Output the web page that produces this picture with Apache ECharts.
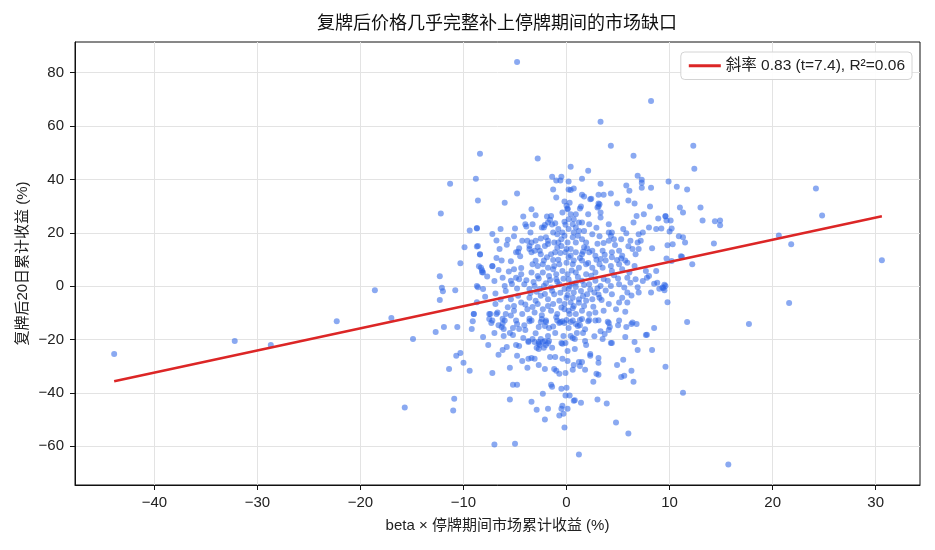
<!DOCTYPE html>
<html>
<head>
<meta charset="utf-8">
<title>复牌后价格几乎完整补上停牌期间的市场缺口</title>
<script src="https://cdn.jsdelivr.net/npm/echarts@6/dist/echarts.min.js"></script>
<style>
  html, body { margin: 0; padding: 0; background: #fff; }
  #main { width: 935px; height: 550px; }
</style>
</head>
<body>
<div id="main"></div>
<script>
// x: beta × 停牌期间市场累计收益 (%), y: 复牌后20日累计收益 (%)
const tailPoints = [
  [-43.9,-25.4],[-32.2,-20.5],[-28.7,-22.0],[-22.3,-13.1],[-18.6,-1.5],[-17.0,-11.9],[-15.7,-45.5],
  [-14.9,-19.8],[-12.7,-17.2],[-12.2,27.2],[-12.3,3.7],[-12.1,-0.6],[-12.0,-1.9],[-12.3,-5.2],[-11.9,-15.3],
  [12.3,52.6],[12.4,44.0],[9.9,39.2],[10.7,37.3],[11.7,36.2],[24.2,36.6],[24.8,26.5],[11.0,29.5],[13.0,29.5],
  [11.3,27.6],[9.6,26.1],[9.7,24.6],[10.1,24.6],[13.2,24.6],[14.4,24.3],[14.9,24.6],[14.9,22.8],[10.2,21.6],
  [10.0,20.5],[10.9,18.7],[11.3,18.3],[11.5,16.4],[9.8,15.3],[10.3,15.7],[14.3,16.0],[20.6,19.0],[21.8,15.7],
  [11.1,11.2],[11.2,11.0],[10.2,9.4],[12.2,8.2],[30.6,9.7],[9.5,0.5],[9.4,-0.7],[9.5,-1.5],[9.8,-6.0],
  [21.6,-6.3],[11.7,-13.4],[17.7,-14.2],[9.6,-30.2],[11.3,-39.9],[15.7,-66.8],[8.5,0.9],[9.0,-1.0]
];

const upperPoints = [
  [-4.8,84.0],[8.2,69.4],[3.3,61.6],[4.3,52.6],[-8.4,49.6],[-2.8,47.8],[6.5,48.9],[0.4,44.8],[2.1,43.3],
  [-11.3,38.4],[-8.8,40.3],[-8.6,32.1],[-6.0,31.3],[-4.8,34.7],[-3.4,28.8],[-1.4,41.0],[-0.5,41.0],[-1.0,39.6],
  [-0.6,39.6],[0.2,39.2],[1.5,40.3],[3.3,38.4],[-1.3,36.2],[0.2,36.2],[0.4,36.0],[0.7,36.6],[-1.0,33.2],
  [1.5,34.3],[1.7,33.6],[2.4,32.8],[3.1,34.3],[3.6,34.3],[4.3,34.7],[-0.2,31.7],[0.3,31.3],[0.1,29.1],
  [1.3,29.1],[3.1,31.0],[3.1,29.9],[4.9,31.0],[6.9,41.4],[7.3,39.9],[7.3,38.8],[5.8,37.7],[6.1,35.8],
  [7.3,36.9],[8.2,36.9],[6.0,32.1],[6.6,31.0],[8.1,29.9]
];

const leftPoints = [
  [-9.4,20.9],[-8.7,21.6],[-9.9,14.6],[-8.7,14.9],[-8.4,11.9],[-10.3,8.6],[-8.5,7.5],[-8.2,6.0],[-8.2,5.2],
  [-7.2,7.5],[-7.0,1.9],[-10.8,-1.5],[-8.6,-0.4],[-8.1,-1.1],[-8.7,-6.0],[-6.9,-6.7],[-9.0,-10.4],[-9.1,-13.1],
  [-9.2,-16.0],[-7.4,-10.4],[-6.8,-10.4],[-7.5,-12.3],[-7.3,-13.8],[-7.0,-17.5],[-8.1,-19.0],[-7.6,-22.0],
  [-10.6,-15.3],[-10.3,-25.0],[-10.7,-26.1],[-10.0,-28.7],[-11.4,-31.0],[-9.4,-31.7],[-7.2,-32.5],[-6.6,-25.7],
  [-10.9,-42.2],[-11.0,-46.6],[-7.0,-59.3],[-6.2,-12.2],[-5.4,-11.0]
];

const lowerPoints = [
  [1.2,-63.1],[-5.0,-59.0],[6.0,-55.2],[4.8,-51.1],[-0.2,-53.0],[-0.7,-48.5],[-0.3,-47.8],[-0.5,-45.9],
  [0.1,-45.9],[-0.4,-44.8],[-2.1,-50.0],[-2.9,-46.3],[-1.8,-45.9],[-3.4,-43.3],[-5.5,-42.5],[-2.3,-40.3],
  [-0.1,-41.0],[0.3,-41.0],[0.7,-42.9],[0.8,-42.7],[1.4,-43.7],[3.0,-42.5],[3.9,-44.0],[-0.5,-38.4],[0.0,-38.1],
  [-1.5,-36.9],[-1.4,-37.7],[-5.2,-36.9],[-4.8,-36.9],[2.6,-35.8],[6.5,-35.8],[5.3,-34.0],[5.6,-33.6],[6.3,-31.7],
  [2.9,-32.8],[3.1,-33.2],[-5.5,-30.6],[-3.8,-30.6],[-2.1,-31.0],[-1.2,-31.0],[-1.0,-31.7],[-0.7,-32.8],
  [-0.1,-32.5],[0.6,-31.3],[0.7,-29.5],[1.3,-29.9],[1.2,-28.4],[1.5,-28.4],[1.8,-31.3],[4.9,-29.5],[5.5,-27.6],
  [8.3,-23.9],[6.9,-23.9],[6.6,-20.9],[5.7,-19.0],[8.5,-15.7],[7.7,-18.3],[7.8,-18.2],[6.8,-14.2],[6.3,-14.2],
  [5.8,-15.3],[5.0,-14.6],[4.3,-21.3],[4.4,-21.3],[3.5,-19.8],[3.7,-17.9],[4.1,-13.8],[4.2,-15.3],[4.1,-16.4],
  [3.1,-12.8],[2.3,-25.4],[2.3,-26.1],[3.1,-26.9],[3.1,-28.7],[1.8,-20.5],[1.9,-22.0],[0.8,-23.5],[0.1,-24.3],
  [-0.4,-27.2],[0.1,-28.0],[-1.6,-26.5],[-1.1,-26.5],[-3.7,-27.2],[-3.4,-26.9],[-3.1,-27.2],[-4.3,-28.0],
  [-2.7,-29.5],[-4.8,-26.1],[-6.2,-23.9],[-5.8,-22.8],[-4.9,-22.0],[-4.6,-22.4],[-3.7,-20.9],[-3.1,-20.9],
  [-2.7,-20.9],[-2.6,-22.0],[-2.7,-23.5],[-2.2,-23.1],[-1.7,-20.5],[-2.0,-22.0],[-1.4,-23.1],[-0.5,-21.3],
  [-0.4,-21.6],[-6.6,-14.6],[-6.3,-15.3],[-6.1,-16.0],[-6.1,-18.7],[-5.5,-17.5],[-5.2,-18.3],[-5.2,-15.7],
  [-4.6,-16.0],[-4.8,-14.2],[-4.0,-16.4],[-3.6,-13.1],[-3.6,-12.2],[-2.7,-15.3],[-2.5,-13.4],[-2.4,-12.3],
  [-2.1,-14.9],[-2.0,-13.4],[-1.7,-15.7],[-1.8,-18.7],[-1.1,-17.5],[-0.7,-13.8],[-0.6,-13.4],[-0.2,-13.8],
  [-0.4,-13.1],[0.0,-12.7],[0.2,-15.7],[0.4,-13.4],[0.4,-18.7],[0.6,-19.4],[0.8,-19.8],[-0.3,-18.7],[-0.1,-21.3],
  [1.0,-17.5],[1.1,-14.9],[1.3,-14.6],[0.9,-14.2],[1.3,-12.7],[1.6,-17.5],[2.1,-13.1],[2.2,-12.7],[-3.3,-19.8],
  [-2.9,-23.1],[-2.7,-21.6],[-3.7,-20.5],[-4.2,-19.4],[-2.5,-19.8],[-2.3,-20.9],[-2.1,-20.5],[-1.8,-21.3]
];

const corePoints = [
  [-4.2,26.1],[-3.0,26.6],[-1.9,26.1],[-1.5,26.3],[-1.6,24.9],[-1.8,23.9],[-2.1,22.9],[-1.4,23.1],[-1.1,23.6],
  [-4.0,23.2],[-3.3,23.2],[-0.2,24.1],[-0.4,27.6],[0.0,30.1],[0.1,28.8],[-8.7,21.8],[-6.4,21.4],[-5.0,21.6],
  [-3.9,22.4],[-3.5,20.1],[-2.4,22.0],[-2.2,22.0],[-1.3,20.1],[-0.8,21.4],[-0.9,19.5],[-0.4,20.1],[-5.7,17.4],
  [-5.1,18.7],[-4.3,17.0],[-3.8,17.0],[-3.4,16.4],[-3.6,15.1],[-3.0,17.0],[-2.0,18.3],[-1.8,17.0],[-1.8,15.8],
  [-2.1,15.1],[-1.2,16.4],[-0.8,16.4],[-0.5,17.6],[-0.2,18.9],[0.1,16.4],[-0.5,15.1],[0.0,13.9],[-8.6,15.1],
  [-8.4,12.0],[-6.5,13.9],[-5.8,15.5],[-4.9,12.7],[-4.7,12.9],[-4.5,11.2],[-3.6,13.9],[-3.4,12.7],[-3.1,13.3],
  [-2.6,13.3],[-2.5,12.0],[-1.5,12.0],[-1.1,12.7],[-0.6,12.4],[-0.1,12.7],[-6.3,9.6],[-2.2,9.6],[-1.3,9.8],
  [1.4,29.9],[2.3,32.6],[3.2,30.7],[3.3,27.6],[3.0,29.5],[0.4,27.0],[0.9,27.0],[0.2,25.1],[0.7,25.1],[1.2,23.9],
  [0.6,23.2],[0.9,22.0],[2.1,27.0],[1.5,23.9],[2.2,23.2],[3.3,25.7],[4.1,23.2],[6.8,26.3],[6.5,23.9],[7.5,27.0],
  [8.9,25.4],[9.6,26.3],[8.0,22.0],[7.4,20.1],[7.0,19.5],[8.7,21.4],[9.2,21.6],[0.2,21.4],[0.7,20.1],[1.2,20.7],
  [1.7,20.7],[1.1,18.9],[0.6,18.3],[1.5,17.6],[2.5,19.5],[3.2,18.7],[4.1,20.1],[4.3,18.9],[4.4,20.1],[4.1,17.0],
  [4.6,17.6],[5.5,21.4],[5.3,17.6],[6.2,17.0],[6.9,16.4],[7.2,17.0],[7.0,13.9],[6.4,13.9],[6.7,12.0],[8.3,14.2],
  [9.7,10.4],[0.9,16.4],[1.9,16.4],[1.7,14.6],[0.4,13.9],[0.9,12.7],[1.5,12.0],[2.2,12.7],[2.8,11.4],[2.5,13.3],
  [3.5,13.3],[4.4,12.7],[4.4,10.8],[5.1,13.3],[5.4,11.4],[5.7,9.6],[0.2,10.8],[0.7,9.6],[1.5,9.6],[3.3,10.2],
  [3.8,9.6],[4.9,9.8],
  [-8.3,6.9],[-7.2,7.6],[-8.1,5.1],[-8.7,0.1],[-6.2,3.2],[-5.4,2.0],[-6.0,0.1],[-5.9,-1.8],[-5.1,6.3],[-4.4,4.5],
  [-4.9,3.2],[-4.6,2.6],[-3.3,8.2],[-2.8,7.6],[-2.3,8.2],[-1.8,6.9],[-1.3,6.3],[-0.7,8.2],[0.0,8.8],[-3.4,5.1],
  [-2.8,3.8],[-2.3,5.1],[-1.7,3.8],[-1.0,4.5],[-0.4,5.7],[0.1,4.5],[-1.0,2.6],[-4.1,0.7],[-3.6,-1.1],[-3.1,0.1],
  [-2.6,-1.1],[-2.2,0.1],[-1.5,-0.5],[-0.7,0.7],[-0.2,-1.1],[0.3,0.1],[-5.4,-4.9],[-4.7,-3.6],[-4.4,-6.1],
  [-5.1,-7.4],[-3.6,-4.3],[-3.0,-5.5],[-2.5,-3.6],[-1.8,-4.9],[-1.2,-3.0],[-0.7,-5.5],[0.0,-4.3],[0.4,-6.1],
  [-9.0,-10.4],[-7.5,-10.4],[-6.7,-9.9],[-5.9,-10.4],[-5.1,-9.2],[-4.3,-10.4],[-3.8,-8.6],[-3.1,-9.9],[-2.3,-8.6],
  [-1.5,-9.2],[-0.9,-10.4],[-0.2,-8.6],[0.3,-10.4],[-7.2,-12.9],[-6.0,-12.9],[-4.9,-12.9],[-3.4,-12.9],
  [-2.0,-12.9],[-0.9,-12.9],[-2.8,-6.7],[-1.8,-7.4],[-1.3,-6.7],[-0.5,-8.0],[-0.2,-6.7],
  [0.6,8.2],[1.2,6.9],[1.9,8.2],[2.5,6.9],[3.2,8.2],[2.8,5.1],[0.9,5.1],[1.9,4.5],[3.5,6.9],[4.3,7.6],[4.4,5.7],
  [5.1,8.2],[5.4,6.3],[5.9,8.8],[6.6,7.6],[7.7,5.7],[8.0,3.8],[8.7,5.7],[0.2,2.6],[0.9,1.3],[1.5,2.0],[2.2,0.7],
  [2.8,2.0],[3.3,0.1],[4.0,2.0],[4.3,0.1],[5.1,0.7],[5.9,3.2],[6.2,1.3],[6.7,2.6],[7.8,3.2],[5.6,-0.5],[5.9,-2.4],
  [7.0,-2.4],[8.2,-2.4],[8.8,1.3],[9.6,0.1],[9.3,-0.5],[0.2,-1.1],[0.7,-2.4],[1.4,-1.8],[2.0,-3.0],[2.7,-2.4],
  [0.6,-4.3],[1.2,-4.9],[1.9,-5.5],[2.5,-4.9],[3.2,-4.3],[5.4,-4.3],[5.9,-6.1],[5.1,-6.1],[4.1,-6.7],[3.6,-9.2],
  [2.8,-9.9],[2.2,-10.4],[1.5,-9.2],[0.9,-10.4],[0.2,-9.2],[0.7,-7.4],[1.7,-7.4],[6.4,-13.6],[5.1,-12.9],
  [4.0,-13.3],[2.8,-12.9],[1.5,-12.3],[0.6,-12.9]
];

// overlapping points in the dense centre, estimated
const denseCore = [
  [-3.9,2.2],[-3.2,1.6],[-2.7,2.9],[-2.0,1.1],[-1.6,2.3],[-0.9,1.7],[-0.3,2.8],[0.5,1.0],[1.1,3.4],[1.7,0.4],
  [2.4,3.9],[3.0,-0.8],[3.6,2.7],[-3.5,-2.6],[-2.9,-2.1],[-2.1,-2.9],[-1.4,-1.7],[-0.6,-2.5],[0.1,-3.3],[0.9,-0.3],
  [1.6,-3.7],[2.3,-1.2],[3.1,-3.1],[3.8,-1.6],[-4.4,6.8],[-3.0,9.5],[-1.9,10.8],[-0.8,9.9],[0.4,11.5],[1.3,10.6],
  [2.1,8.7],[2.9,9.9],[3.7,11.8],[4.6,4.1],[5.0,2.9],[-4.8,-0.9],[-5.3,0.8],[-5.6,5.5],[-6.6,6.1],[-6.9,-2.7],
  [-6.4,-5.0],[-5.7,-7.9],[-4.0,-6.9],[-3.3,-7.8],[-2.4,-10.9],[-1.0,-11.6],[0.6,-8.3],[1.2,-6.2],[2.6,-7.7],
  [3.4,-5.2],[4.4,-3.0],[4.8,-8.6],[5.7,-9.6],[6.3,-3.5],[6.9,-0.4],[7.4,1.9],[6.1,5.1],[5.3,10.4],[6.0,15.0],
  [4.7,15.4],[3.0,15.9],[2.0,14.2],[-0.9,14.4],[-2.8,14.7],[-4.6,14.2],[-5.4,9.3],[-6.8,10.6],[-7.7,3.6],
  [-7.9,-4.0],[-6.2,-14.0],[-4.1,-14.6],[-1.3,-15.1],[1.8,-16.1],[3.3,-16.9],[2.7,-18.8],[-3.0,-17.6],[0.5,5.9],
  [-1.2,7.6],[1.6,12.9],[-2.5,17.9],[2.9,21.9],[-0.1,23.0],[3.6,16.2],[5.8,19.8],[-6.8,17.1],[-7.2,19.6]
];

// OLS fit shown in the legend
const fitSlope = 0.83;
const fitIntercept = 0.8;
const fitLabel = '斜率 0.83 (t=7.4), R²=0.06';

const xTicks = [-40, -30, -20, -10, 0, 10, 20, 30];
const yTicks = [-60, -40, -20, 0, 20, 40, 60, 80];

const allPoints = [].concat(tailPoints, upperPoints, leftPoints, lowerPoints, corePoints, denseCore);
const xs = allPoints.map(p => p[0]);
const xMin = Math.min.apply(null, xs);
const xMax = Math.max.apply(null, xs);
const fitLine = [
  [xMin, fitIntercept + fitSlope * xMin],
  [xMax, fitIntercept + fitSlope * xMax]
];

const FONT = "'Liberation Sans', 'Noto Sans CJK SC', sans-serif";
const minus = v => String(v).replace('-', '\u2212');

const chart = echarts.init(document.getElementById('main'), null, { renderer: 'canvas' });

const option = {
  backgroundColor: '#fff',
  animation: false,
  textStyle: { fontFamily: FONT },
  title: {
    text: '复牌后价格几乎完整补上停牌期间的市场缺口',
    left: 497,
    top: 15,
    textAlign: 'center',
    padding: 0,
    textStyle: { fontFamily: FONT, fontSize: 18, fontWeight: 'normal', color: '#111' }
  },
  grid: {
    left: 75, right: 15, top: 42, bottom: 65,
    show: true, borderColor: '#111', borderWidth: 1, backgroundColor: 'transparent'
  },
  legend: {
    data: [{ name: fitLabel, icon: 'rect' }],
    right: 23, top: 52,
    itemWidth: 32, itemHeight: 3, itemGap: 10,
    padding: [6, 7, 6, 8],
    borderColor: '#d4d4d4', borderWidth: 1, borderRadius: 4,
    backgroundColor: 'rgba(255,255,255,0.9)',
    textStyle: { fontFamily: FONT, fontSize: 15.5, color: '#222' }
  },
  xAxis: {
    type: 'value',
    min: -47.7, max: 34.3,
    name: 'beta × 停牌期间市场累计收益 (%)',
    nameLocation: 'middle', nameGap: 33,
    nameTextStyle: { fontFamily: FONT, fontSize: 15, color: '#222' },
    axisLine: { show: true, onZero: false, lineStyle: { color: '#111', width: 1 } },
    axisTick: { show: true, length: 5, customValues: xTicks, lineStyle: { color: '#111' } },
    axisLabel: { customValues: xTicks, formatter: minus, fontSize: 15, color: '#222', margin: 10 },
    splitLine: { show: true, lineStyle: { color: '#e3e3e3', width: 1 } }
  },
  yAxis: {
    type: 'value',
    min: -74.5, max: 91.5,
    name: '复牌后20日累计收益 (%)',
    nameLocation: 'middle', nameGap: 45, nameMoveOverlap: false,
    nameTextStyle: { fontFamily: FONT, fontSize: 15, color: '#222' },
    axisLine: { show: true, onZero: false, lineStyle: { color: '#111', width: 1 } },
    axisTick: { show: true, length: 5, customValues: yTicks, lineStyle: { color: '#111' } },
    axisLabel: { customValues: yTicks, formatter: minus, fontSize: 15, color: '#222', margin: 11 },
    splitLine: { show: true, lineStyle: { color: '#e3e3e3', width: 1 } }
  },
  series: [
    {
      type: 'scatter',
      data: allPoints,
      symbolSize: 6,
      itemStyle: { color: '#2a62e6', opacity: 0.55 },
      z: 2
    },
    {
      name: fitLabel,
      type: 'line',
      data: fitLine,
      showSymbol: false,
      symbol: 'none',
      lineStyle: { color: '#dc2626', width: 2.5 },
      itemStyle: { color: '#dc2626' },
      z: 3
    }
  ]
};

chart.setOption(option);
</script>
</body>
</html>
